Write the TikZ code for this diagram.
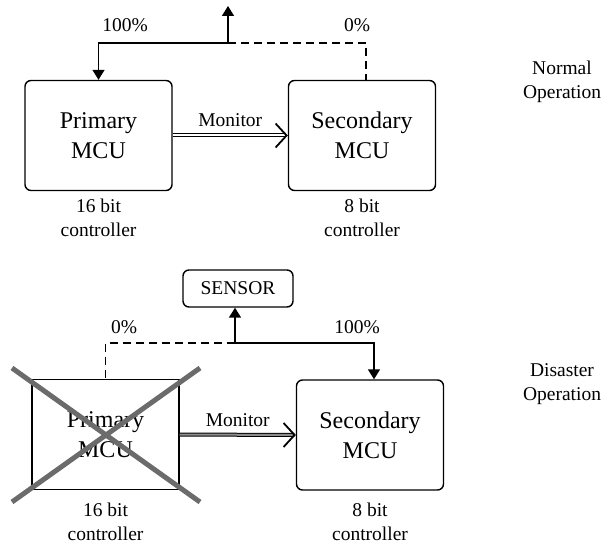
\documentclass[tikz,border=0pt]{standalone}
\usepackage{fontspec}
\setmainfont{Liberation Serif}
\usetikzlibrary{arrows.meta,calc}
\begin{document}
\begin{tikzpicture}[x=1pt,y=-1pt,
  mcu/.style={draw,line width=1.4pt,minimum width=147pt,minimum height=110pt,align=center,font=\fontsize{24}{30}\selectfont,inner sep=0pt},
  rmcu/.style={mcu,rounded corners=6pt},
  lbl/.style={font=\fontsize{19.5}{24}\selectfont,align=center,inner sep=0pt},
  conn/.style={line width=1.5pt},
  arr/.style={conn,-{Triangle[length=10pt,width=12pt]}},
  dsh/.style={conn,dash pattern=on 8pt off 5pt},
  monline/.style={double,double distance=2pt,line width=1pt,shorten >=1.5pt},
  montip/.style={line width=1.8pt,-{Straight Barb[length=11pt,width=24pt]}}
]
\useasboundingbox (0,0) rectangle (604,545);

% ---- Normal operation ----
\node[rmcu] (p1) at (98.5,135.5) {Primary\\MCU};
\node[rmcu] (s1) at (362,135.5) {Secondary\\MCU};
\node[lbl] (p1c) at (98.5,218) {16 bit\\controller};
\node[lbl] (s1c) at (362,218) {8 bit\\controller};
\node[lbl] (no) at (562,82) {Normal\\Operation};

\coordinate (j1) at (228,43);
\coordinate (u1) at (228,6);
\coordinate (d1) at (366,43);
\draw[arr] (j1) -| (p1.north);
\draw[arr] (j1) -- (u1);
\draw[dsh] (j1) -- (d1) -- (d1 |- s1.north);
\node[lbl] (pc1) at (125,25) {100\%};
\node[lbl] (pc0) at (357,25) {0\%};

\draw[monline] (p1.east) -- (s1.west) node[lbl,midway,above=8pt] (m1) {Monitor};
\draw[montip] ($(s1.west)+(-3,0)$) -- (s1.west);

% ---- Disaster operation ----
\node[mcu] (p2) at (105.5,434.5) {Primary\\MCU};
\node[rmcu] (s2) at (370,435) {Secondary\\MCU};
\node[lbl] (p2c) at (105.5,522) {16 bit\\controller};
\node[lbl] (s2c) at (370,522) {8 bit\\controller};
\node[lbl] (dop) at (562,384) {Disaster\\Operation};

\node[draw,line width=1.4pt,rounded corners=6pt,minimum width=110pt,minimum height=37pt,inner sep=0pt,font=\fontsize{19.5}{24}\selectfont] (sen) at (238,288.5) {SENSOR};

\coordinate (j2) at (235,343);
\coordinate (d2) at (374,343);
\draw[arr] (j2) -- (j2 |- sen.south);
\draw[dsh] (j2) -| (p2.north);
\draw[arr] (j2) -- (d2) -- (d2 |- s2.north);
\node[lbl] (pc2) at (124,327) {0\%};
\node[lbl] (pc3) at (357,327) {100\%};

\draw[monline,double=black!45] (p2.east) -- (s2.west) node[lbl,midway,above=8pt] (m2) {Monitor};
\draw[montip] ($(s2.west)+(-3,0)$) -- (s2.west);

% gray cross
\draw[line width=5pt,black!58] (12,368) -- (200,502);
\draw[line width=5pt,black!58] (200,368) -- (12,502);
\end{tikzpicture}
\end{document}
